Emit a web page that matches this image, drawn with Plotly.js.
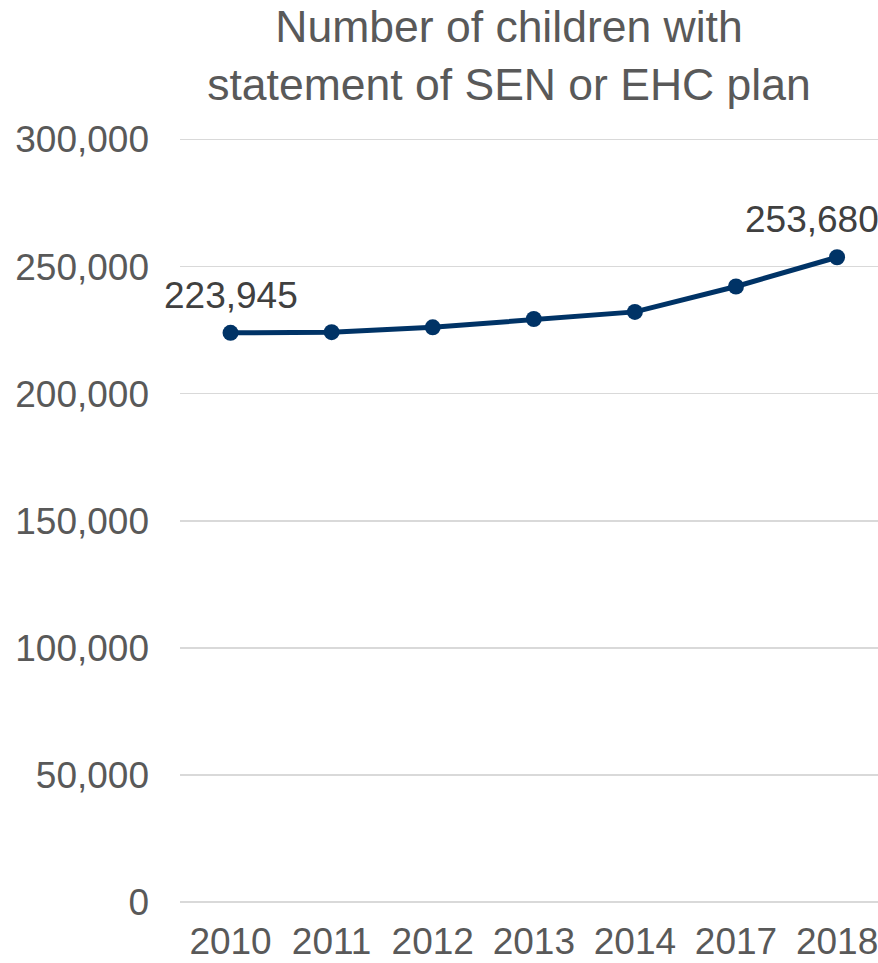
<!DOCTYPE html>
<html>
<head>
<meta charset="utf-8">
<script src="https://cdn.plot.ly/plotly-3.0.1.min.js"></script>
<style>html,body{margin:0;padding:0;background:#fff;}#chart{width:878px;height:963px;}</style>
</head>
<body>
<div id="chart"></div>
<script>
var years = ["2010", "2011", "2012", "2013", "2014", "2017", "2018"];
var children = [223945, 224210, 226125, 229390, 232190, 242185, 253680];
var yTicks = [0, 50000, 100000, 150000, 200000, 250000, 300000];
var labelIdx = [0, 6];
var chartTitle = "Number of children with<br>statement of SEN or EHC plan";

function fmt(n) {
  return String(n).replace(/\B(?=(\d{3})+(?!\d))/g, ",");
}

var FONT = "Liberation Sans, Arial, sans-serif";
var trace = {
  x: years,
  y: children,
  type: "scatter",
  mode: "lines+markers",
  line: {color: "#003366", width: 5},
  marker: {color: "#003366", size: 16},
  hoverinfo: "x+y"
};

var annots = labelIdx.map(function (i, k) {
  return {
    x: i, y: children[i], xref: "x", yref: "y",
    text: fmt(children[i]),
    showarrow: false,
    xanchor: "center", yanchor: "bottom",
    yshift: 15, xshift: k === 1 ? -25 : 0,
    font: {family: FONT, size: 37, color: "#404040"}
  };
});

var layout = {
  width: 878, height: 963,
  margin: {l: 180, r: 0, t: 137, b: 61},
  paper_bgcolor: "#ffffff", plot_bgcolor: "#ffffff",
  showlegend: false,
  title: {
    text: chartTitle,
    x: 509 / 878, xanchor: "center", xref: "container",
    y: 0.956, yanchor: "top", yref: "container",
    font: {family: FONT, size: 44.5, color: "#595959"}
  },
  xaxis: {
    type: "category",
    range: [-0.5, 6.405],
    showgrid: false, zeroline: false, showline: false,
    ticks: "",
    tickfont: {family: FONT, size: 37, color: "#595959"},
    ticklabelstandoff: 14
  },
  yaxis: {
    range: [0, 301000],
    tickvals: yTicks,
    tickformat: ",d",
    showgrid: true, gridcolor: "#d9d9d9", gridwidth: 1.5,
    zeroline: true, zerolinecolor: "#d9d9d9", zerolinewidth: 1.5,
    showline: false, ticks: "",
    tickfont: {family: FONT, size: 37, color: "#595959"},
    ticklabelstandoff: 30
  },
  annotations: annots
};

Plotly.newPlot("chart", [trace], layout, {displayModeBar: false, staticPlot: true});
</script>
</body>
</html>
